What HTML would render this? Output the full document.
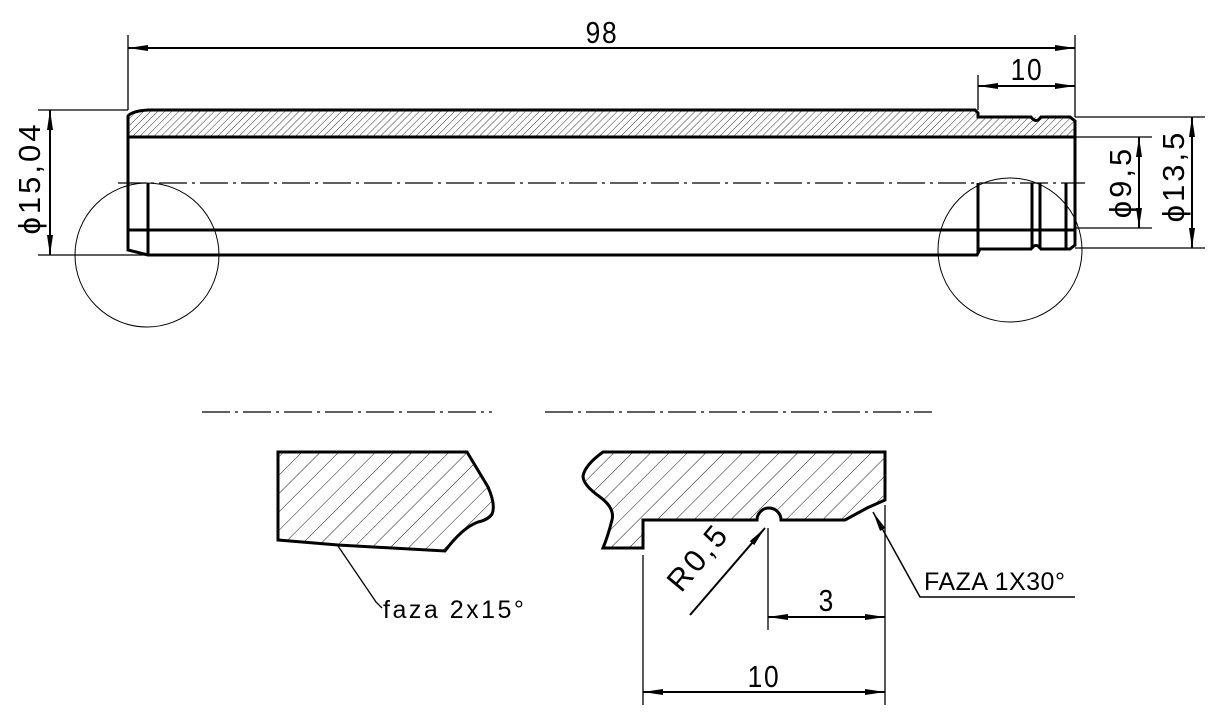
<!DOCTYPE html>
<html><head><meta charset="utf-8"><style>html,body{margin:0;padding:0;background:#fff}svg{display:block}</style></head><body>
<svg width="1216" height="721" viewBox="0 0 1216 721" xmlns="http://www.w3.org/2000/svg" font-family="Liberation Sans, sans-serif">
<defs>
<pattern id="h1" width="5" height="5" patternUnits="userSpaceOnUse" patternTransform="rotate(45)"><line x1="0" y1="0" x2="0" y2="5" stroke="#000" stroke-width="0.8"/></pattern>
<pattern id="h2" width="13" height="13" patternUnits="userSpaceOnUse" patternTransform="rotate(45)"><line x1="0" y1="0" x2="0" y2="13" stroke="#000" stroke-width="0.9"/></pattern>
<marker id="a" viewBox="0 0 20 8" refX="20" refY="4" markerWidth="20" markerHeight="8" markerUnits="userSpaceOnUse" orient="auto-start-reverse"><path d="M0,1 L20,4 L0,7Z" fill="#000"/></marker>
</defs>
<g fill="none" stroke="#000">
<path d="M128,116 Q132,111 148,110 L975,110 L978,113 L978,117 L1070,117 L1075,121 L1075,137 L128,137Z" fill="url(#h1)" stroke="none"/>
<g stroke-width="3">
<path d="M128,116 Q132,111 148,110 L975,110 L978,113 L978,117 L1031,117 Q1036,124 1041,117 L1070,117 L1075,121 L1075,245 L1070,249 L1041,249 Q1036,242 1031,249 L980,249 L977,255 L148,255 L128,250 Z"/>
<line x1="128" y1="137" x2="1075" y2="137"/>
<line x1="128" y1="230" x2="1075" y2="230"/>
<line x1="148" y1="183" x2="148" y2="255"/>
<line x1="978" y1="183" x2="978" y2="254"/>
<line x1="1032" y1="183" x2="1032" y2="249"/>
<line x1="1040" y1="183" x2="1040" y2="249"/>
<line x1="1066" y1="183" x2="1066" y2="249"/>
</g>
<line x1="118" y1="183" x2="1085" y2="183" stroke-width="1.2" stroke-dasharray="28,5,3,5"/>
<circle cx="147" cy="255" r="72" stroke-width="1"/>
<circle cx="1010" cy="250" r="72" stroke-width="1"/>
<g stroke-width="1.3">
<line x1="128" y1="35" x2="128" y2="110"/><line x1="1075" y1="35" x2="1075" y2="117"/>
<line x1="128" y1="48" x2="1075" y2="48" marker-start="url(#a)" marker-end="url(#a)" stroke-width="2"/>
<line x1="978" y1="75" x2="978" y2="110"/>
<line x1="978" y1="86" x2="1075" y2="86" marker-start="url(#a)" marker-end="url(#a)" stroke-width="2"/>
<line x1="38" y1="110" x2="128" y2="110"/><line x1="38" y1="255" x2="148" y2="255"/>
<line x1="50" y1="110" x2="50" y2="255" marker-start="url(#a)" marker-end="url(#a)" stroke-width="2"/>
<line x1="1075" y1="137" x2="1152" y2="137"/><line x1="1075" y1="228" x2="1152" y2="228"/>
<line x1="1139" y1="137" x2="1139" y2="228" marker-start="url(#a)" marker-end="url(#a)" stroke-width="2"/>
<line x1="1075" y1="117" x2="1205" y2="117"/><line x1="1075" y1="248" x2="1205" y2="248"/>
<line x1="1192" y1="117" x2="1192" y2="248" marker-start="url(#a)" marker-end="url(#a)" stroke-width="2"/>
</g>
<line x1="202" y1="412" x2="492" y2="412" stroke-width="1.2" stroke-dasharray="28,5,3,5"/>
<line x1="545" y1="412" x2="932" y2="412" stroke-width="1.2" stroke-dasharray="28,5,3,5"/>
<path d="M278,452 L467,452 L488,487 Q496,505 492,514 Q488,520 478,522 Q462,528 445,551 L338,545 L278,540 Z" fill="url(#h2)" stroke-width="3"/>
<polyline points="338,546 376,602 382,608" stroke-width="1.3"/>
<path d="M603,452 L885,452 L885,500 L867,508 L845,520 L781,520 A9,9 0 1 0 757,520 L643,520 L643,548 L603,548 Q608,536 612,520 Q615,508 600,497 Q583,485 583,476 Q585,465 603,452 Z" fill="url(#h2)" stroke-width="3"/>
<g stroke-width="1.3">
<line x1="643" y1="555" x2="643" y2="705"/>
<line x1="885" y1="505" x2="885" y2="705"/>
<line x1="768" y1="528" x2="768" y2="630"/>
<line x1="768" y1="617" x2="885" y2="617" marker-start="url(#a)" marker-end="url(#a)" stroke-width="2"/>
<line x1="643" y1="692" x2="885" y2="692" marker-start="url(#a)" marker-end="url(#a)" stroke-width="2"/>
<line x1="690" y1="615" x2="765" y2="528" marker-end="url(#a)" stroke-width="2"/>
<polyline points="1075,597 920,597 873,512" marker-end="url(#a)" stroke-width="1.5"/>
</g>
</g>
<g fill="#000" font-size="31">
<text x="602" y="43" text-anchor="middle" letter-spacing="2" transform="translate(602,0) scale(0.85,1) translate(-602,0)">98</text>
<text x="1027" y="80" text-anchor="middle" letter-spacing="2" transform="translate(1027,0) scale(0.85,1) translate(-1027,0)">10</text>
<text transform="translate(40,178) rotate(-90)" text-anchor="middle" letter-spacing="3">ϕ15,04</text>
<text transform="translate(1131,182) rotate(-90)" text-anchor="middle" letter-spacing="3">ϕ9,5</text>
<text transform="translate(1184,176) rotate(-90)" text-anchor="middle" letter-spacing="3">ϕ13,5</text>
<text x="826" y="611" text-anchor="middle" transform="translate(826,0) scale(0.85,1) translate(-826,0)">3</text>
<text x="764" y="687" text-anchor="middle" letter-spacing="2" transform="translate(764,0) scale(0.85,1) translate(-764,0)">10</text>
<text transform="translate(706,564) rotate(-50)" text-anchor="middle" letter-spacing="3">R0,5</text>
<text x="383" y="618" font-size="25" letter-spacing="2.5">faza 2x15°</text>
<text x="924" y="590" font-size="25" letter-spacing="0.5">FAZA 1X30°</text>
</g>
</svg>
</body></html>
